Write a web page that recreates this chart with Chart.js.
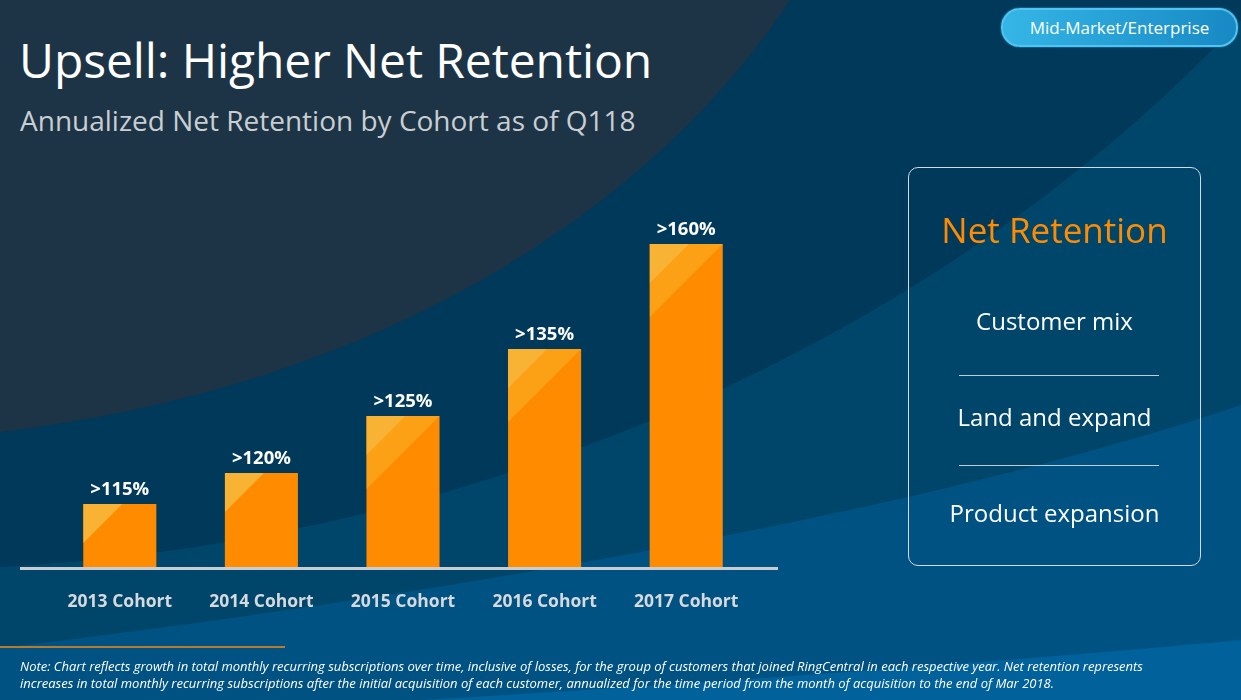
<!DOCTYPE html>
<html>
<head>
<meta charset="utf-8">
<script src="https://cdn.jsdelivr.net/npm/chart.js@4.4.1/dist/chart.umd.min.js"></script>
<style>
  html, body { margin: 0; padding: 0; }
  body { width: 1241px; height: 700px; position: relative; overflow: hidden; background: #00395a; font-family: "Open Sans", "Noto Sans", sans-serif; }
  #bg { position: absolute; left: 0; top: 0; }
  #chartWrap { position: absolute; left: 0; top: 0; width: 1241px; height: 700px; }
  .title { position: absolute; left: 19px; top: 27px; color: #fff; font-size: 48px; font-weight: 400; white-space: nowrap; letter-spacing: -0.1px; }
  .subtitle { position: absolute; left: 20px; top: 101px; color: #c9ced3; font-size: 28px; white-space: nowrap; }
  .pill { position: absolute; left: 1001px; top: 8px; width: 233px; height: 35px; border-radius: 19px;
          background: linear-gradient(90deg, #35b6e6, #1789c4); border: 2px solid #52c4ee; box-sizing: content-box;
          color: #fff; font-size: 17px; line-height: 35px; text-align: center; box-shadow: 0 0 0 1px #0a5d8a; }
  .box { position: absolute; left: 908px; top: 167px; width: 291px; height: 397px; border: 1.5px solid #d3dae1; border-radius: 10px; }
  .box div { position: absolute; left: 0; width: 100%; text-align: center; white-space: nowrap; }
  .box .head { top: 38px; color: #ff8c00; font-size: 35px; }
  .box .item { color: #fff; font-size: 24px; }
  .box .rule { left: 50px; width: 200px; height: 0; border-top: 1.5px solid #c3ccd5; }
  .footline { position: absolute; left: 0; top: 646px; width: 285px; height: 2px; background: #b97a2a; }
  .note { position: absolute; left: 20px; top: 658px; color: #fff; font-size: 13px; line-height: 17px; font-style: italic; white-space: nowrap; }
</style>
</head>
<body>
<svg id="bg" width="1241" height="700" xmlns="http://www.w3.org/2000/svg">
  <rect width="1241" height="700" fill="#00395a"/>
  <path d="M0,0 L790,0 C680,170 430,380 0,432 Z" fill="#1c3445"/>
  <path d="M0,567 C500,540 950,330 1241,20 L1241,700 L0,700 Z" fill="#00466b"/>
  <path d="M0,648 C400,600 900,520 1241,405 L1241,700 L0,700 Z" fill="#005282"/>
  <path d="M420,700 C700,684 1000,662 1241,640 L1241,700 Z" fill="#00619b"/>
</svg>

<div class="title">Upsell: Higher Net Retention</div>
<div class="subtitle">Annualized Net Retention by Cohort as of Q118</div>
<div class="pill">Mid-Market/Enterprise</div>

<div id="chartWrap"><canvas id="chart" width="1241" height="700"></canvas></div>

<div class="box">
  <div class="head">Net Retention</div>
  <div class="item" style="top:136px">Customer mix</div>
  <div class="rule" style="top:207px"></div>
  <div class="item" style="top:232px">Land and expand</div>
  <div class="rule" style="top:297px"></div>
  <div class="item" style="top:328px">Product expansion</div>
</div>

<div class="footline"></div>
<div class="note">Note: Chart reflects growth in total monthly recurring subscriptions over time, inclusive of losses, for the group of customers that joined RingCentral in each respective year. Net retention represents<br>increases in total monthly recurring subscriptions after the initial acquisition of each customer, annualized for the time period from the month of acquisition to the end of Mar 2018.</div>

<script>
// cohorts and their net retention labels
const cohorts = ["2013 Cohort", "2014 Cohort", "2015 Cohort", "2016 Cohort", "2017 Cohort"];
const retentionLabels = [">115%", ">120%", ">125%", ">135%", ">160%"];
// bar heights as drawn on the slide (not to scale with the labels)
const barHeights = [63, 94, 151, 218, 323];

// axis line, bar highlights and the value labels
const slideBars = {
  id: "slideBars",
  afterDatasetsDraw(chart) {
    const ctx = chart.ctx;
    const area = chart.chartArea;
    const bars = chart.getDatasetMeta(0).data;

    bars.forEach((bar, i) => {
      const left = bar.x - bar.width / 2;
      const right = bar.x + bar.width / 2;
      const top = bar.y;
      const bottom = bar.base;
      ctx.save();
      ctx.beginPath();
      ctx.rect(left, top, right - left, bottom - top);
      ctx.clip();
      if (bottom - top > 150) {
        ctx.fillStyle = "#fca116";
        ctx.beginPath();
        ctx.moveTo(left, top);
        ctx.lineTo(left + 73, top);
        ctx.lineTo(left, top + 73);
        ctx.closePath();
        ctx.fill();
      }
      ctx.fillStyle = "#f9b334";
      ctx.beginPath();
      ctx.moveTo(left, top);
      ctx.lineTo(left + 39, top);
      ctx.lineTo(left, top + 39);
      ctx.closePath();
      ctx.fill();
      ctx.restore();

      ctx.save();
      ctx.fillStyle = "#ffffff";
      ctx.font = "bold 18.5px 'Open Sans'";
      ctx.textAlign = "center";
      ctx.textBaseline = "alphabetic";
      ctx.fillText(retentionLabels[i], bar.x, top - 9);
      ctx.restore();
    });

    ctx.save();
    ctx.strokeStyle = "#c9cdd1";
    ctx.lineWidth = 3;
    ctx.beginPath();
    ctx.moveTo(20, area.bottom + 1.5);
    ctx.lineTo(778, area.bottom + 1.5);
    ctx.stroke();
    ctx.restore();
  }
};

new Chart(document.getElementById("chart").getContext("2d"), {
  type: "bar",
  data: {
    labels: cohorts,
    datasets: [
      {
        data: barHeights,
        backgroundColor: "#ff8c00",
        barPercentage: 0.516,
        categoryPercentage: 1,
      },
    ],
  },
  options: {
    responsive: false,
    animation: false,
    layout: { padding: { left: 49, right: 484, top: 200, bottom: 62 } },
    plugins: { legend: { display: false }, tooltip: { enabled: false } },
    scales: {
      x: {
        grid: { display: false, drawTicks: false },
        border: { display: false },
        ticks: { color: "#d6dade", font: { family: "Open Sans", size: 17.5, weight: "bold" }, padding: 25 },
      },
      y: { display: false, min: 0, max: 367 },
    },
  },
  plugins: [slideBars],
});
</script>
</body>
</html>
